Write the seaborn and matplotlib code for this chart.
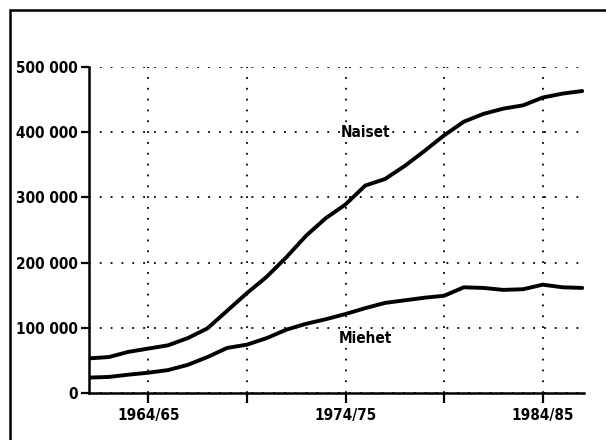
import pandas as pd
import numpy as np
import matplotlib.pyplot as plt
import matplotlib.lines as mlines
import seaborn as sns

# school years, first year of each pair (1961 = 1961/62)
years = list(range(1961, 1987))

# women and men
naiset = [53000, 55000, 63000, 68000, 73000, 84000, 99000, 126000, 153000, 178000,
          208000, 241000, 268000, 289000, 318000, 328000, 348000, 371000, 395000,
          416000, 428000, 436000, 441000, 453000, 459000, 463000]
miehet = [23500, 24500, 28000, 31000, 35000, 43000, 55000, 69000, 74000, 84000,
          97000, 106000, 113000, 121000, 130000, 138000, 142000, 146000, 149000,
          162000, 161000, 158000, 159000, 166000, 162000, 161000]

xticks = [1964, 1969, 1974, 1979, 1984]
xtick_labels = ["1964/65", "", "1974/75", "", "1984/85"]
yticks = [0, 100000, 200000, 300000, 400000, 500000]
ytick_labels = ["0", "100 000", "200 000", "300 000", "400 000", "500 000"]

df = pd.DataFrame({"Vuosi": years + years,
                   "Lkm": naiset + miehet,
                   "Sukupuoli": ["Naiset"] * len(years) + ["Miehet"] * len(years)})

sns.set_style("white")
plt.rcParams['font.family'] = ['DejaVu Sans']
plt.rcParams['font.stretch'] = 'condensed'
plt.rcParams['font.weight'] = 'bold'
plt.rcParams['text.color'] = 'black'
plt.rcParams['xtick.color'] = 'black'
plt.rcParams['ytick.color'] = 'black'

fs = 11

fig = plt.figure(figsize=(6.06, 4.4), dpi=100)
ax = fig.add_axes([0.147, 0.107, 0.817, 0.741])

sns.lineplot(data=df, x="Vuosi", y="Lkm", units="Sukupuoli", estimator=None,
             color="black", linewidth=2.8, ax=ax, legend=False,
             solid_joinstyle="round", solid_capstyle="round")

ax.set_xlim(1961, 1986.1)
ax.set_ylim(0, 500000)
ax.set_xticks(xticks)
ax.set_xticklabels(xtick_labels, fontsize=fs, fontweight="bold", fontstretch="condensed")
ax.set_yticks(yticks)
ax.set_yticklabels(ytick_labels, fontsize=fs, fontweight="bold", fontstretch="condensed")
ax.set_xlabel("")
ax.set_ylabel("")

# dotted grid like the old print
ax.grid(True, color="black", linestyle=(0, (1, 5)), linewidth=1.3)
ax.set_axisbelow(True)

for s in ["top", "right"]:
    ax.spines[s].set_visible(False)
for s in ["left", "bottom"]:
    ax.spines[s].set_color("black")
    ax.spines[s].set_linewidth(1.8)

ax.tick_params(axis="both", which="both", direction="out", color="black",
               width=1.6, bottom=True, left=True, labelcolor="black")
ax.tick_params(axis="y", length=6, pad=2)
ax.tick_params(axis="x", length=7, pad=4)

ax.text(1975.0, 400000, "Naiset", ha="center", va="center", fontsize=fs,
        fontweight="bold", fontstretch="condensed",
        bbox=dict(facecolor="white", edgecolor="none", pad=0.5))
ax.text(1975.0, 84000, "Miehet", ha="center", va="center", fontsize=fs,
        fontweight="bold", fontstretch="condensed",
        bbox=dict(facecolor="white", edgecolor="none", pad=0.5))

# frame around the picture (left and top edges visible)
fig.add_artist(mlines.Line2D([10 / 606, 10 / 606], [0, 1 - 10 / 440],
                             color="black", linewidth=1.8))
fig.add_artist(mlines.Line2D([10 / 606, 1], [1 - 10 / 440, 1 - 10 / 440],
                             color="black", linewidth=1.8))

plt.savefig("out.png", dpi=100)
